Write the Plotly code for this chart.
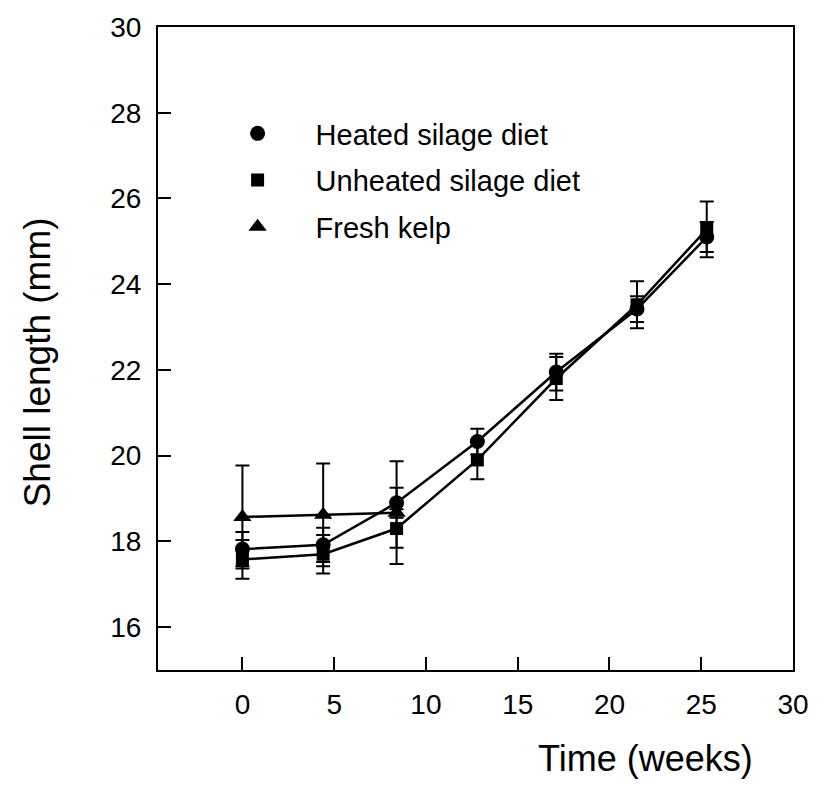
import plotly.graph_objects as go

weeks = [0, 4.4, 8.4, 12.8, 17.1, 21.5, 25.3]
heated = [17.82, 17.92, 18.9, 20.33, 21.95, 23.42, 25.1]
heated_err = [0.4, 0.4, 0.35, 0.3, 0.43, 0.3, 0.35]
unheated = [17.58, 17.7, 18.3, 19.9, 21.8, 23.52, 25.28]
unheated_err = [0.45, 0.45, 0.45, 0.45, 0.5, 0.55, 0.65]
kelp_weeks = [0, 4.4, 8.4]
kelp = [18.57, 18.62, 18.67]
kelp_err = [1.2, 1.2, 1.2]

names = ["Heated silage diet", "Unheated silage diet", "Fresh kelp"]
symbols = ["circle", "square", "triangle-up"]
msizes = [15, 13, 16]

FONT = "Liberation Sans, Arial, sans-serif"
fig = go.Figure()

series = [(weeks, heated, heated_err), (weeks, unheated, unheated_err), (kelp_weeks, kelp, kelp_err)]
for i, (xs, ys, es) in enumerate(series):
    fig.add_trace(go.Scatter(
        x=xs, y=ys, mode="lines+markers", showlegend=False,
        line=dict(color="black", width=2.5),
        marker=dict(symbol=symbols[i], size=msizes[i], color="black"),
        error_y=dict(type="data", array=es, visible=True, color="black", thickness=2, width=7),
    ))
for i in range(3):
    fig.add_trace(go.Scatter(
        x=[None], y=[None], mode="markers", name=names[i], legendgroup=str(i),
        marker=dict(symbol=symbols[i], size=msizes[i], color="black"),
    ))

fig.update_layout(
    width=821, height=792,
    margin=dict(l=158, r=22, t=27, b=122),
    paper_bgcolor="white", plot_bgcolor="white",
    font=dict(family=FONT, color="black", size=28),
    legend=dict(x=0.0655, y=0.874, xanchor="left", yanchor="top", bgcolor="rgba(0,0,0,0)",
                font=dict(size=29), tracegroupgap=6, itemwidth=106),
    xaxis=dict(range=[-4.6, 30], tickvals=[0, 5, 10, 15, 20, 25, 30],
               ticks="inside", ticklen=13, tickwidth=2, tickcolor="black",
               showline=True, linewidth=2, linecolor="black", mirror=True,
               showgrid=False, zeroline=False, ticklabelstandoff=8,
               tickfont=dict(size=28)),
    yaxis=dict(range=[15, 30], tickvals=[16, 18, 20, 22, 24, 26, 28, 30],
               ticks="inside", ticklen=13, tickwidth=2, tickcolor="black",
               showline=True, linewidth=2, linecolor="black", mirror=True,
               showgrid=False, zeroline=False, ticklabelstandoff=9,
               tickfont=dict(size=28)),
    annotations=[
        dict(text="Time (weeks)", xref="paper", yref="paper", x=0.767, y=-0.137,
             xanchor="center", yanchor="middle", showarrow=False, font=dict(size=36)),
        dict(text="Shell length (mm)", xref="paper", yref="paper", x=-0.19, y=0.479,
             xanchor="center", yanchor="middle", textangle=-90, showarrow=False,
             font=dict(size=37)),
    ],
)

fig.write_html("out.html")
